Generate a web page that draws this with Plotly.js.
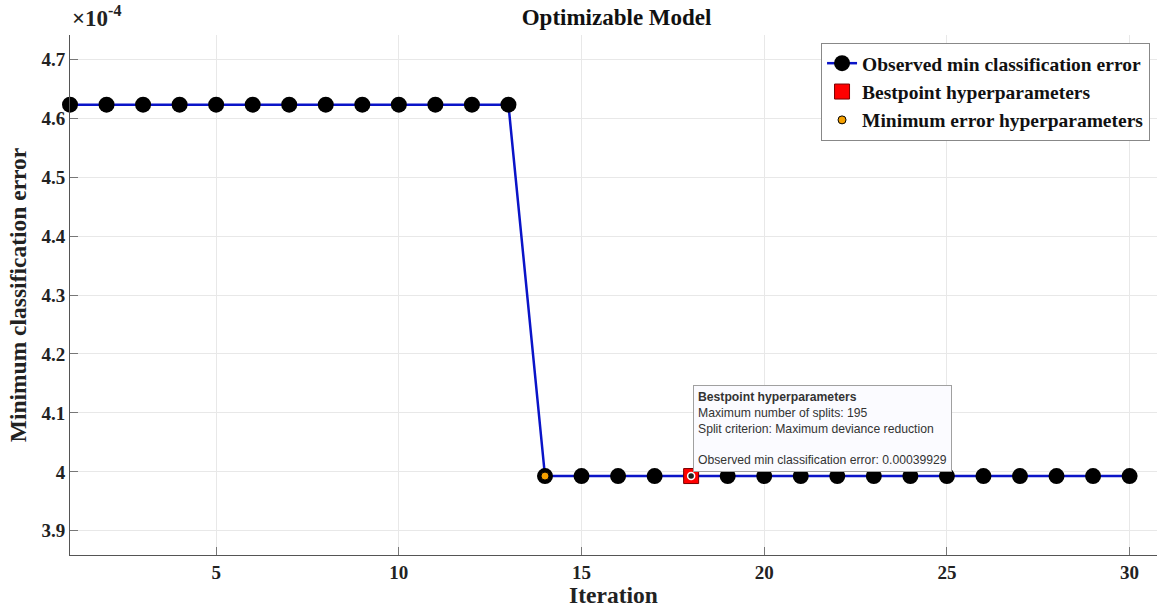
<!DOCTYPE html>
<html>
<head>
<meta charset="utf-8">
<script src="https://cdn.plot.ly/plotly-3.0.1.min.js"></script>
<style>
  html, body { margin: 0; padding: 0; background: #ffffff; }
  #chart { width: 1159px; height: 608px; }
</style>
</head>
<body>
<div id="chart"></div>
<script>
// Bayesian optimisation trace: observed minimum classification error per iteration
const iterations = [1,2,3,4,5,6,7,8,9,10,11,12,13,14,15,16,17,18,19,20,21,22,23,24,25,26,27,28,29,30];
const minError = [
  4.6228e-4,4.6228e-4,4.6228e-4,4.6228e-4,4.6228e-4,4.6228e-4,4.6228e-4,4.6228e-4,4.6228e-4,4.6228e-4,
  4.6228e-4,4.6228e-4,4.6228e-4,3.9929e-4,3.9929e-4,3.9929e-4,3.9929e-4,3.9929e-4,3.9929e-4,3.9929e-4,
  3.9929e-4,3.9929e-4,3.9929e-4,3.9929e-4,3.9929e-4,3.9929e-4,3.9929e-4,3.9929e-4,3.9929e-4,3.9929e-4
];
const bestIter = [18];
const bestErr = [3.9929e-4];
const minErrIter = [14];
const minErrVal = [3.9929e-4];

const xTicks = [5, 10, 15, 20, 25, 30];
const yTickVals = [3.9e-4, 4.0e-4, 4.1e-4, 4.2e-4, 4.3e-4, 4.4e-4, 4.5e-4, 4.6e-4, 4.7e-4];
const yTickText = ['3.9', '4', '4.1', '4.2', '4.3', '4.4', '4.5', '4.6', '4.7'];

const tipLines = [
  '<b>Bestpoint hyperparameters</b>',
  'Maximum number of splits: 195',
  'Split criterion: Maximum deviance reduction',
  '',
  'Observed min classification error: 0.00039929'
];

const serif = 'Liberation Serif, Times New Roman, serif';

const traces = [
  {
    x: iterations, y: minError, type: 'scatter', mode: 'lines+markers',
    name: '<b>Observed min classification error</b>',
    cliponaxis: false,
    line: { color: '#0a14c8', width: 2.5 },
    marker: { color: '#000000', size: 16, symbol: 'circle' }
  },
  {
    x: bestIter, y: bestErr, type: 'scatter', mode: 'markers',
    name: '<b>Bestpoint hyperparameters</b>',
    cliponaxis: false,
    marker: { color: '#ff0000', size: 15, symbol: 'square', line: { color: '#7a0000', width: 1 } }
  },
  {
    x: minErrIter, y: minErrVal, type: 'scatter', mode: 'markers',
    name: '<b>Minimum error hyperparameters</b>',
    cliponaxis: false,
    marker: { color: '#f5a000', size: 8, symbol: 'circle', line: { color: '#000000', width: 1 } }
  },
  {
    // data-tip anchor dot on the best point
    x: bestIter, y: bestErr, type: 'scatter', mode: 'markers',
    showlegend: false, hoverinfo: 'skip', cliponaxis: false,
    marker: { color: '#222222', size: 7, symbol: 'circle', line: { color: '#ffffff', width: 1.5 } }
  }
];

const layout = {
  width: 1159, height: 608,
  margin: { l: 70, r: 2, t: 35, b: 53 },
  paper_bgcolor: '#ffffff', plot_bgcolor: '#ffffff',
  showlegend: true,
  title: {
    text: '<b>Optimizable Model</b>',
    font: { family: serif, size: 23, color: '#111111' },
    x: 0.532, xanchor: 'center', y: 0.985, yanchor: 'top'
  },
  xaxis: {
    range: [1, 30.75],
    tickvals: xTicks,
    ticktext: xTicks.map(v => '<b>' + v + '</b>'),
    ticks: 'inside', ticklen: 8, tickcolor: '#777777', tickwidth: 1,
    showline: true, linecolor: '#555555', linewidth: 1,
    showgrid: true, gridcolor: '#e8e8e8', gridwidth: 1,
    zeroline: false,
    tickfont: { family: serif, size: 19, color: '#222222' },
    title: { text: '<b>Iteration</b>', font: { family: serif, size: 23.5, color: '#222222' }, standoff: 6 }
  },
  yaxis: {
    range: [3.859e-4, 4.741e-4],
    tickvals: yTickVals,
    ticktext: yTickText.map(v => '<b>' + v + '</b>'),
    ticks: 'inside', ticklen: 8, tickcolor: '#777777', tickwidth: 1,
    showline: true, linecolor: '#555555', linewidth: 1,
    showgrid: true, gridcolor: '#e8e8e8', gridwidth: 1,
    zeroline: false,
    tickfont: { family: serif, size: 19, color: '#222222' },
    title: { text: '<b>Minimum classification error</b>', font: { family: serif, size: 23.5, color: '#222222' }, standoff: 8 }
  },
  legend: {
    x: 0.9936, xanchor: 'right', y: 0.9846, yanchor: 'top',
    bgcolor: '#ffffff', bordercolor: '#888888', borderwidth: 1,
    font: { family: serif, size: 19.5, color: '#111111' },
    itemwidth: 30, tracegroupgap: 0
  },
  annotations: [
    {
      xref: 'paper', yref: 'paper', x: 0.0, y: 1.0, xanchor: 'left', yanchor: 'bottom',
      yshift: 2, xshift: 0,
      text: '<b>×10<sup>-4</sup></b>', showarrow: false,
      font: { family: serif, size: 23, color: '#222222' }
    },
    {
      x: bestIter[0], y: bestErr[0], xref: 'x', yref: 'y',
      xanchor: 'left', yanchor: 'bottom', xshift: 2, yshift: 4,
      showarrow: false, align: 'left',
      text: tipLines.join('<br>'),
      font: { family: 'Liberation Sans, Arial, sans-serif', size: 12.2, color: '#333333' },
      bgcolor: '#fbfbff', bordercolor: '#a0a0a0', borderwidth: 1, borderpad: 4
    }
  ]
};

Plotly.newPlot('chart', traces, layout, { displayModeBar: false, staticPlot: true });
</script>
</body>
</html>
